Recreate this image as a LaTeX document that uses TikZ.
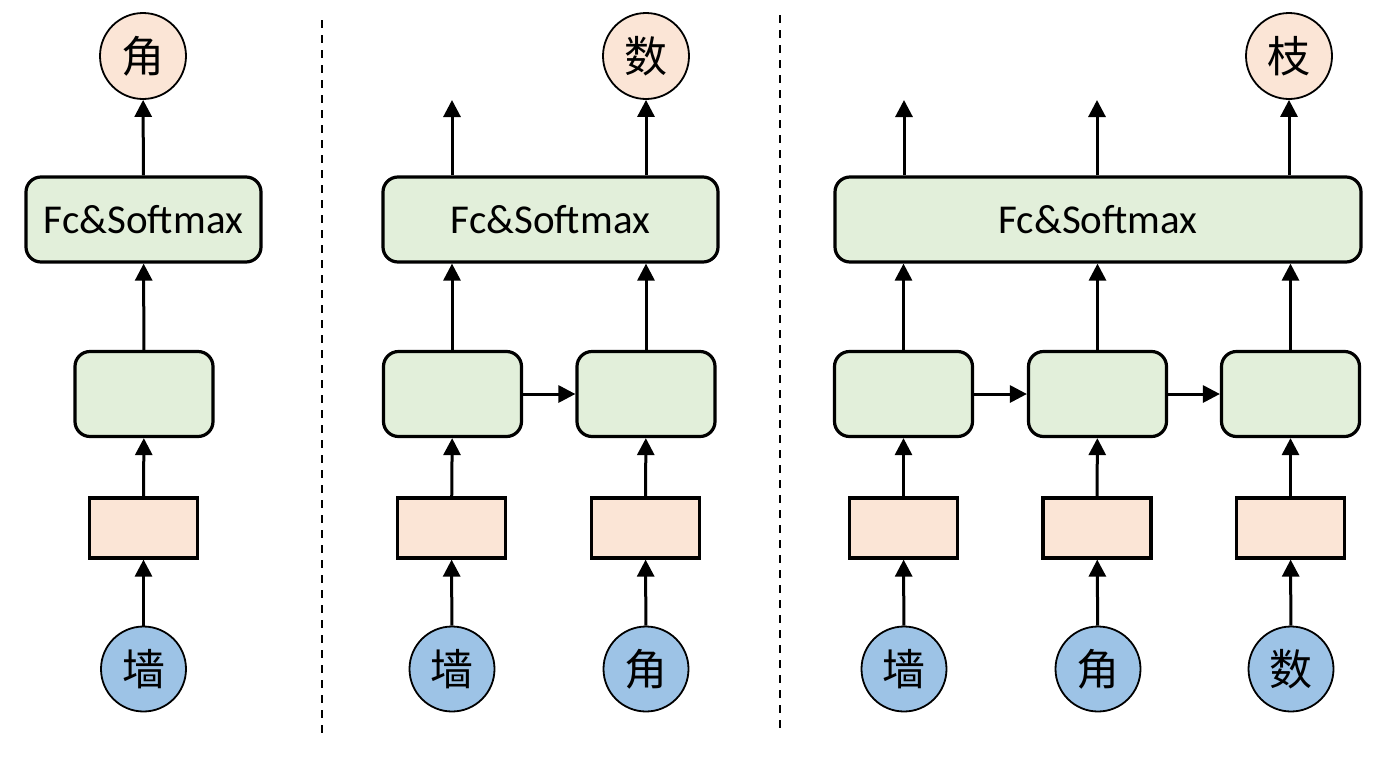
\documentclass[tikz,border=0pt]{standalone}
\usepackage{fontspec}
\setmainfont{Carlito}
\newfontfamily\cjk{Noto Sans CJK SC}
\usetikzlibrary{arrows.meta}
\definecolor{ofill}{HTML}{FBE5D6}
\definecolor{gfill}{HTML}{E2EFDA}
\definecolor{bfill}{HTML}{9DC3E6}
\tikzset{
  fcbox/.style={draw,line width=3.2pt,fill=gfill,rounded corners=15pt,minimum height=85pt,inner sep=0pt,font=\fontsize{41}{46}\selectfont},
  cell/.style={draw,line width=3.2pt,fill=gfill,rounded corners=15pt,minimum width=138pt,minimum height=85pt,inner sep=0pt},
  emb/.style={draw,line width=3.2pt,fill=ofill,minimum width=108pt,minimum height=60pt,inner sep=0pt},
  inc/.style={circle,draw,line width=1.8pt,fill=bfill,minimum size=85pt,inner sep=0pt,font=\cjk\fontsize{43}{45}\selectfont},
  outc/.style={circle,draw,line width=1.8pt,fill=ofill,minimum size=86pt,inner sep=0pt,font=\cjk\fontsize{43}{45}\selectfont},
  arr/.style={line width=3pt,-{Triangle[length=17pt,width=17pt]}},
  sep/.style={line width=2.4pt,dash pattern=on 8pt off 7pt}
}
\begin{document}
\begin{tikzpicture}[x=1pt,y=-1pt]
\useasboundingbox (0,0) rectangle (1390,756);
% separators
\coordinate (s1a) at (322,20); \coordinate (s1b) at (322,738);
\coordinate (s2a) at (780,15); \coordinate (s2b) at (780,728);
\draw[sep] (s1a) -- (s1b);
\draw[sep] (s2a) -- (s2b);
% panel 1
\node[outc] (o1) at (143,56) {角};
\node[fcbox,minimum width=235pt] (f1) at (143.5,219.5) {Fc\&Softmax};
\node[cell] (c1) at (144,394) {};
\node[emb] (e1) at (143.5,528) {};
\node[inc] (i1) at (143.5,669) {墙};
\draw[arr] (i1) -- (e1);
\draw[arr] (e1) -- (c1);
\draw[arr] (c1) -- (f1);
\draw[arr] (f1) -- (o1);
% panel 2
\node[outc] (o2b) at (646,56) {数};
\node[fcbox,minimum width=335pt] (f2) at (550.5,219.5) {Fc\&Softmax};
\node[cell] (c2a) at (452.5,394) {};
\node[cell] (c2b) at (646,394) {};
\node[emb] (e2a) at (451.5,528) {};
\node[emb] (e2b) at (645.5,528) {};
\node[inc] (i2a) at (452,669) {墙};
\node[inc] (i2b) at (646,669) {角};
\coordinate (t2a) at (452,100);
\foreach \n in {a,b}{
  \draw[arr] (i2\n) -- (e2\n);
  \draw[arr] (e2\n) -- (c2\n);
}
\draw[arr] (c2a.north -| 452,0) -- (f2.south -| 452,0);
\draw[arr] (c2b.north -| 646,0) -- (f2.south -| 646,0);
\draw[arr] (c2a) -- (c2b);
\draw[arr] (f2.north -| t2a) -- (t2a);
\draw[arr] (f2.north -| o2b) -- (o2b);
% panel 3
\node[outc] (o3c) at (1289,56) {枝};
\node[fcbox,minimum width=526pt] (f3) at (1098,219.5) {Fc\&Softmax};
\node[cell] (c3a) at (903.5,394) {};
\node[cell] (c3b) at (1097.5,394) {};
\node[cell] (c3c) at (1290.5,394) {};
\node[emb] (e3a) at (903.5,528) {};
\node[emb] (e3b) at (1097,528) {};
\node[emb] (e3c) at (1290.5,528) {};
\node[inc] (i3a) at (904,669) {墙};
\node[inc] (i3b) at (1098,669) {角};
\node[inc] (i3c) at (1291,669) {数};
\coordinate (t3a) at (904,100);
\coordinate (t3b) at (1097,100);
\foreach \n in {a,b,c}{
  \draw[arr] (i3\n) -- (e3\n);
  \draw[arr] (e3\n) -- (c3\n);
  \draw[arr] (c3\n.north) -- (c3\n.north |- f3.south);
}
\draw[arr] (c3a) -- (c3b);
\draw[arr] (c3b) -- (c3c);
\draw[arr] (f3.north -| t3a) -- (t3a);
\draw[arr] (f3.north -| t3b) -- (t3b);
\draw[arr] (f3.north -| o3c) -- (o3c);
\end{tikzpicture}
\end{document}
